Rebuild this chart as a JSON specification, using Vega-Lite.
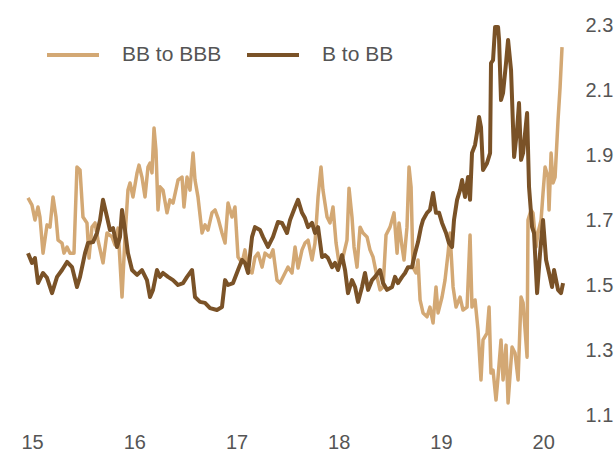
{
  "$schema": "https://vega.github.io/schema/vega-lite/v6.json",
  "width": 537,
  "height": 390,
  "autosize": "none",
  "padding": {"left": 28, "top": 25, "right": 51, "bottom": 40},
  "background": "white",
  "config": {
    "view": {"stroke": null},
    "font": "Liberation Sans",
    "axis": {"labelFont": "Liberation Sans", "labelFontSize": 20, "labelColor": "#555555", "domain": false, "ticks": false, "grid": false, "title": null},
    "legend": {"labelFont": "Liberation Sans", "labelFontSize": 21, "labelColor": "#555555"}
  },
  "data": {"values": [
{"s":"BB to BBB","t":14.960,"v":1.768},{"s":"BB to BBB","t":14.999,"v":1.746},{"s":"BB to BBB","t":15.028,"v":1.700},{"s":"BB to BBB","t":15.058,"v":1.740},{"s":"BB to BBB","t":15.077,"v":1.709},{"s":"BB to BBB","t":15.107,"v":1.598},{"s":"BB to BBB","t":15.146,"v":1.685},{"s":"BB to BBB","t":15.175,"v":1.678},{"s":"BB to BBB","t":15.205,"v":1.771},{"s":"BB to BBB","t":15.234,"v":1.709},{"s":"BB to BBB","t":15.254,"v":1.638},{"s":"BB to BBB","t":15.293,"v":1.629},{"s":"BB to BBB","t":15.312,"v":1.598},{"s":"BB to BBB","t":15.342,"v":1.617},{"s":"BB to BBB","t":15.371,"v":1.598},{"s":"BB to BBB","t":15.410,"v":1.598},{"s":"BB to BBB","t":15.439,"v":1.863},{"s":"BB to BBB","t":15.469,"v":1.854},{"s":"BB to BBB","t":15.498,"v":1.709},{"s":"BB to BBB","t":15.537,"v":1.691},{"s":"BB to BBB","t":15.557,"v":1.583},{"s":"BB to BBB","t":15.586,"v":1.678},{"s":"BB to BBB","t":15.616,"v":1.691},{"s":"BB to BBB","t":15.645,"v":1.638},{"s":"BB to BBB","t":15.694,"v":1.568},{"s":"BB to BBB","t":15.733,"v":1.660},{"s":"BB to BBB","t":15.782,"v":1.648},{"s":"BB to BBB","t":15.811,"v":1.623},{"s":"BB to BBB","t":15.841,"v":1.675},{"s":"BB to BBB","t":15.880,"v":1.463},{"s":"BB to BBB","t":15.909,"v":1.648},{"s":"BB to BBB","t":15.938,"v":1.792},{"s":"BB to BBB","t":15.958,"v":1.814},{"s":"BB to BBB","t":15.987,"v":1.771},{"s":"BB to BBB","t":16.027,"v":1.845},{"s":"BB to BBB","t":16.046,"v":1.869},{"s":"BB to BBB","t":16.075,"v":1.832},{"s":"BB to BBB","t":16.105,"v":1.771},{"s":"BB to BBB","t":16.134,"v":1.863},{"s":"BB to BBB","t":16.154,"v":1.875},{"s":"BB to BBB","t":16.173,"v":1.845},{"s":"BB to BBB","t":16.193,"v":1.983},{"s":"BB to BBB","t":16.212,"v":1.915},{"s":"BB to BBB","t":16.232,"v":1.731},{"s":"BB to BBB","t":16.252,"v":1.802},{"s":"BB to BBB","t":16.281,"v":1.792},{"s":"BB to BBB","t":16.320,"v":1.722},{"s":"BB to BBB","t":16.349,"v":1.762},{"s":"BB to BBB","t":16.379,"v":1.752},{"s":"BB to BBB","t":16.428,"v":1.823},{"s":"BB to BBB","t":16.467,"v":1.832},{"s":"BB to BBB","t":16.486,"v":1.740},{"s":"BB to BBB","t":16.516,"v":1.832},{"s":"BB to BBB","t":16.545,"v":1.792},{"s":"BB to BBB","t":16.575,"v":1.906},{"s":"BB to BBB","t":16.594,"v":1.823},{"s":"BB to BBB","t":16.623,"v":1.771},{"s":"BB to BBB","t":16.663,"v":1.660},{"s":"BB to BBB","t":16.692,"v":1.685},{"s":"BB to BBB","t":16.721,"v":1.669},{"s":"BB to BBB","t":16.760,"v":1.722},{"s":"BB to BBB","t":16.790,"v":1.731},{"s":"BB to BBB","t":16.819,"v":1.706},{"s":"BB to BBB","t":16.858,"v":1.660},{"s":"BB to BBB","t":16.888,"v":1.629},{"s":"BB to BBB","t":16.917,"v":1.752},{"s":"BB to BBB","t":16.956,"v":1.709},{"s":"BB to BBB","t":16.985,"v":1.740},{"s":"BB to BBB","t":17.015,"v":1.586},{"s":"BB to BBB","t":17.054,"v":1.568},{"s":"BB to BBB","t":17.083,"v":1.608},{"s":"BB to BBB","t":17.113,"v":1.546},{"s":"BB to BBB","t":17.152,"v":1.537},{"s":"BB to BBB","t":17.181,"v":1.586},{"s":"BB to BBB","t":17.211,"v":1.598},{"s":"BB to BBB","t":17.250,"v":1.555},{"s":"BB to BBB","t":17.279,"v":1.598},{"s":"BB to BBB","t":17.328,"v":1.586},{"s":"BB to BBB","t":17.357,"v":1.608},{"s":"BB to BBB","t":17.396,"v":1.515},{"s":"BB to BBB","t":17.426,"v":1.506},{"s":"BB to BBB","t":17.475,"v":1.537},{"s":"BB to BBB","t":17.504,"v":1.555},{"s":"BB to BBB","t":17.543,"v":1.537},{"s":"BB to BBB","t":17.573,"v":1.617},{"s":"BB to BBB","t":17.602,"v":1.552},{"s":"BB to BBB","t":17.641,"v":1.608},{"s":"BB to BBB","t":17.670,"v":1.629},{"s":"BB to BBB","t":17.700,"v":1.638},{"s":"BB to BBB","t":17.739,"v":1.577},{"s":"BB to BBB","t":17.768,"v":1.629},{"s":"BB to BBB","t":17.798,"v":1.771},{"s":"BB to BBB","t":17.827,"v":1.863},{"s":"BB to BBB","t":17.846,"v":1.792},{"s":"BB to BBB","t":17.886,"v":1.709},{"s":"BB to BBB","t":17.915,"v":1.691},{"s":"BB to BBB","t":17.944,"v":1.740},{"s":"BB to BBB","t":17.974,"v":1.629},{"s":"BB to BBB","t":18.003,"v":1.568},{"s":"BB to BBB","t":18.042,"v":1.586},{"s":"BB to BBB","t":18.081,"v":1.638},{"s":"BB to BBB","t":18.101,"v":1.798},{"s":"BB to BBB","t":18.130,"v":1.709},{"s":"BB to BBB","t":18.150,"v":1.617},{"s":"BB to BBB","t":18.179,"v":1.555},{"s":"BB to BBB","t":18.209,"v":1.678},{"s":"BB to BBB","t":18.238,"v":1.660},{"s":"BB to BBB","t":18.277,"v":1.648},{"s":"BB to BBB","t":18.306,"v":1.608},{"s":"BB to BBB","t":18.336,"v":1.586},{"s":"BB to BBB","t":18.375,"v":1.525},{"s":"BB to BBB","t":18.404,"v":1.485},{"s":"BB to BBB","t":18.434,"v":1.494},{"s":"BB to BBB","t":18.463,"v":1.654},{"s":"BB to BBB","t":18.502,"v":1.678},{"s":"BB to BBB","t":18.541,"v":1.722},{"s":"BB to BBB","t":18.571,"v":1.598},{"s":"BB to BBB","t":18.590,"v":1.691},{"s":"BB to BBB","t":18.620,"v":1.617},{"s":"BB to BBB","t":18.639,"v":1.577},{"s":"BB to BBB","t":18.668,"v":1.678},{"s":"BB to BBB","t":18.688,"v":1.863},{"s":"BB to BBB","t":18.708,"v":1.802},{"s":"BB to BBB","t":18.727,"v":1.555},{"s":"BB to BBB","t":18.756,"v":1.537},{"s":"BB to BBB","t":18.776,"v":1.577},{"s":"BB to BBB","t":18.796,"v":1.454},{"s":"BB to BBB","t":18.825,"v":1.414},{"s":"BB to BBB","t":18.864,"v":1.402},{"s":"BB to BBB","t":18.893,"v":1.432},{"s":"BB to BBB","t":18.923,"v":1.383},{"s":"BB to BBB","t":18.952,"v":1.494},{"s":"BB to BBB","t":18.972,"v":1.414},{"s":"BB to BBB","t":19.011,"v":1.463},{"s":"BB to BBB","t":19.040,"v":1.515},{"s":"BB to BBB","t":19.070,"v":1.598},{"s":"BB to BBB","t":19.089,"v":1.660},{"s":"BB to BBB","t":19.119,"v":1.494},{"s":"BB to BBB","t":19.148,"v":1.432},{"s":"BB to BBB","t":19.187,"v":1.463},{"s":"BB to BBB","t":19.216,"v":1.423},{"s":"BB to BBB","t":19.256,"v":1.432},{"s":"BB to BBB","t":19.285,"v":1.654},{"s":"BB to BBB","t":19.304,"v":1.432},{"s":"BB to BBB","t":19.334,"v":1.454},{"s":"BB to BBB","t":19.363,"v":1.362},{"s":"BB to BBB","t":19.392,"v":1.208},{"s":"BB to BBB","t":19.412,"v":1.331},{"s":"BB to BBB","t":19.451,"v":1.352},{"s":"BB to BBB","t":19.471,"v":1.432},{"s":"BB to BBB","t":19.490,"v":1.229},{"s":"BB to BBB","t":19.510,"v":1.238},{"s":"BB to BBB","t":19.539,"v":1.146},{"s":"BB to BBB","t":19.559,"v":1.217},{"s":"BB to BBB","t":19.588,"v":1.331},{"s":"BB to BBB","t":19.608,"v":1.208},{"s":"BB to BBB","t":19.637,"v":1.315},{"s":"BB to BBB","t":19.657,"v":1.137},{"s":"BB to BBB","t":19.696,"v":1.309},{"s":"BB to BBB","t":19.725,"v":1.291},{"s":"BB to BBB","t":19.755,"v":1.208},{"s":"BB to BBB","t":19.784,"v":1.463},{"s":"BB to BBB","t":19.804,"v":1.445},{"s":"BB to BBB","t":19.843,"v":1.278},{"s":"BB to BBB","t":19.852,"v":1.700},{"s":"BB to BBB","t":19.882,"v":1.731},{"s":"BB to BBB","t":19.901,"v":1.722},{"s":"BB to BBB","t":19.931,"v":1.617},{"s":"BB to BBB","t":19.950,"v":1.660},{"s":"BB to BBB","t":19.980,"v":1.700},{"s":"BB to BBB","t":19.999,"v":1.783},{"s":"BB to BBB","t":20.019,"v":1.863},{"s":"BB to BBB","t":20.048,"v":1.832},{"s":"BB to BBB","t":20.058,"v":1.731},{"s":"BB to BBB","t":20.078,"v":1.906},{"s":"BB to BBB","t":20.097,"v":1.814},{"s":"BB to BBB","t":20.117,"v":1.832},{"s":"BB to BBB","t":20.146,"v":2.008},{"s":"BB to BBB","t":20.166,"v":2.109},{"s":"BB to BBB","t":20.185,"v":2.232},
{"s":"B to BB","t":14.960,"v":1.598},{"s":"B to BB","t":14.999,"v":1.568},{"s":"B to BB","t":15.028,"v":1.583},{"s":"B to BB","t":15.058,"v":1.506},{"s":"B to BB","t":15.107,"v":1.537},{"s":"B to BB","t":15.146,"v":1.522},{"s":"B to BB","t":15.195,"v":1.475},{"s":"B to BB","t":15.244,"v":1.525},{"s":"B to BB","t":15.293,"v":1.546},{"s":"B to BB","t":15.342,"v":1.571},{"s":"B to BB","t":15.391,"v":1.555},{"s":"B to BB","t":15.439,"v":1.494},{"s":"B to BB","t":15.469,"v":1.525},{"s":"B to BB","t":15.518,"v":1.598},{"s":"B to BB","t":15.547,"v":1.629},{"s":"B to BB","t":15.596,"v":1.632},{"s":"B to BB","t":15.635,"v":1.660},{"s":"B to BB","t":15.665,"v":1.700},{"s":"B to BB","t":15.694,"v":1.762},{"s":"B to BB","t":15.733,"v":1.709},{"s":"B to BB","t":15.762,"v":1.669},{"s":"B to BB","t":15.792,"v":1.675},{"s":"B to BB","t":15.831,"v":1.617},{"s":"B to BB","t":15.860,"v":1.648},{"s":"B to BB","t":15.880,"v":1.731},{"s":"B to BB","t":15.909,"v":1.669},{"s":"B to BB","t":15.938,"v":1.598},{"s":"B to BB","t":15.978,"v":1.546},{"s":"B to BB","t":16.027,"v":1.531},{"s":"B to BB","t":16.075,"v":1.546},{"s":"B to BB","t":16.124,"v":1.515},{"s":"B to BB","t":16.154,"v":1.463},{"s":"B to BB","t":16.183,"v":1.485},{"s":"B to BB","t":16.222,"v":1.546},{"s":"B to BB","t":16.252,"v":1.525},{"s":"B to BB","t":16.281,"v":1.537},{"s":"B to BB","t":16.330,"v":1.525},{"s":"B to BB","t":16.379,"v":1.515},{"s":"B to BB","t":16.428,"v":1.500},{"s":"B to BB","t":16.477,"v":1.506},{"s":"B to BB","t":16.516,"v":1.525},{"s":"B to BB","t":16.565,"v":1.546},{"s":"B to BB","t":16.594,"v":1.463},{"s":"B to BB","t":16.643,"v":1.448},{"s":"B to BB","t":16.692,"v":1.445},{"s":"B to BB","t":16.741,"v":1.429},{"s":"B to BB","t":16.809,"v":1.423},{"s":"B to BB","t":16.858,"v":1.432},{"s":"B to BB","t":16.888,"v":1.515},{"s":"B to BB","t":16.917,"v":1.500},{"s":"B to BB","t":16.966,"v":1.506},{"s":"B to BB","t":17.015,"v":1.546},{"s":"B to BB","t":17.054,"v":1.577},{"s":"B to BB","t":17.083,"v":1.568},{"s":"B to BB","t":17.113,"v":1.537},{"s":"B to BB","t":17.152,"v":1.648},{"s":"B to BB","t":17.181,"v":1.678},{"s":"B to BB","t":17.230,"v":1.669},{"s":"B to BB","t":17.259,"v":1.648},{"s":"B to BB","t":17.308,"v":1.617},{"s":"B to BB","t":17.357,"v":1.648},{"s":"B to BB","t":17.406,"v":1.694},{"s":"B to BB","t":17.445,"v":1.691},{"s":"B to BB","t":17.494,"v":1.660},{"s":"B to BB","t":17.524,"v":1.700},{"s":"B to BB","t":17.573,"v":1.740},{"s":"B to BB","t":17.602,"v":1.762},{"s":"B to BB","t":17.641,"v":1.722},{"s":"B to BB","t":17.670,"v":1.706},{"s":"B to BB","t":17.700,"v":1.678},{"s":"B to BB","t":17.739,"v":1.691},{"s":"B to BB","t":17.768,"v":1.660},{"s":"B to BB","t":17.798,"v":1.678},{"s":"B to BB","t":17.837,"v":1.586},{"s":"B to BB","t":17.866,"v":1.592},{"s":"B to BB","t":17.895,"v":1.583},{"s":"B to BB","t":17.935,"v":1.555},{"s":"B to BB","t":17.964,"v":1.568},{"s":"B to BB","t":17.993,"v":1.546},{"s":"B to BB","t":18.032,"v":1.592},{"s":"B to BB","t":18.062,"v":1.546},{"s":"B to BB","t":18.091,"v":1.475},{"s":"B to BB","t":18.130,"v":1.515},{"s":"B to BB","t":18.160,"v":1.494},{"s":"B to BB","t":18.189,"v":1.448},{"s":"B to BB","t":18.228,"v":1.494},{"s":"B to BB","t":18.257,"v":1.537},{"s":"B to BB","t":18.287,"v":1.485},{"s":"B to BB","t":18.326,"v":1.515},{"s":"B to BB","t":18.355,"v":1.525},{"s":"B to BB","t":18.404,"v":1.546},{"s":"B to BB","t":18.434,"v":1.506},{"s":"B to BB","t":18.473,"v":1.485},{"s":"B to BB","t":18.522,"v":1.494},{"s":"B to BB","t":18.551,"v":1.525},{"s":"B to BB","t":18.580,"v":1.506},{"s":"B to BB","t":18.620,"v":1.525},{"s":"B to BB","t":18.649,"v":1.537},{"s":"B to BB","t":18.678,"v":1.555},{"s":"B to BB","t":18.717,"v":1.555},{"s":"B to BB","t":18.747,"v":1.598},{"s":"B to BB","t":18.776,"v":1.632},{"s":"B to BB","t":18.805,"v":1.678},{"s":"B to BB","t":18.825,"v":1.700},{"s":"B to BB","t":18.864,"v":1.722},{"s":"B to BB","t":18.893,"v":1.731},{"s":"B to BB","t":18.923,"v":1.783},{"s":"B to BB","t":18.952,"v":1.722},{"s":"B to BB","t":18.982,"v":1.722},{"s":"B to BB","t":19.011,"v":1.691},{"s":"B to BB","t":19.050,"v":1.660},{"s":"B to BB","t":19.079,"v":1.629},{"s":"B to BB","t":19.109,"v":1.617},{"s":"B to BB","t":19.128,"v":1.700},{"s":"B to BB","t":19.158,"v":1.762},{"s":"B to BB","t":19.187,"v":1.792},{"s":"B to BB","t":19.207,"v":1.823},{"s":"B to BB","t":19.236,"v":1.771},{"s":"B to BB","t":19.265,"v":1.832},{"s":"B to BB","t":19.285,"v":1.762},{"s":"B to BB","t":19.304,"v":1.906},{"s":"B to BB","t":19.334,"v":1.931},{"s":"B to BB","t":19.353,"v":1.968},{"s":"B to BB","t":19.373,"v":2.017},{"s":"B to BB","t":19.392,"v":1.986},{"s":"B to BB","t":19.412,"v":1.854},{"s":"B to BB","t":19.451,"v":1.875},{"s":"B to BB","t":19.481,"v":1.906},{"s":"B to BB","t":19.490,"v":2.183},{"s":"B to BB","t":19.510,"v":2.192},{"s":"B to BB","t":19.530,"v":2.294},{"s":"B to BB","t":19.559,"v":2.294},{"s":"B to BB","t":19.569,"v":2.254},{"s":"B to BB","t":19.588,"v":2.069},{"s":"B to BB","t":19.608,"v":2.091},{"s":"B to BB","t":19.637,"v":2.183},{"s":"B to BB","t":19.657,"v":2.254},{"s":"B to BB","t":19.686,"v":2.162},{"s":"B to BB","t":19.716,"v":1.894},{"s":"B to BB","t":19.745,"v":1.977},{"s":"B to BB","t":19.764,"v":2.060},{"s":"B to BB","t":19.784,"v":1.885},{"s":"B to BB","t":19.804,"v":1.906},{"s":"B to BB","t":19.843,"v":2.029},{"s":"B to BB","t":19.862,"v":1.802},{"s":"B to BB","t":19.892,"v":1.678},{"s":"B to BB","t":19.911,"v":1.660},{"s":"B to BB","t":19.941,"v":1.475},{"s":"B to BB","t":19.970,"v":1.598},{"s":"B to BB","t":19.999,"v":1.700},{"s":"B to BB","t":20.029,"v":1.577},{"s":"B to BB","t":20.058,"v":1.537},{"s":"B to BB","t":20.087,"v":1.494},{"s":"B to BB","t":20.107,"v":1.546},{"s":"B to BB","t":20.146,"v":1.485},{"s":"B to BB","t":20.175,"v":1.475},{"s":"B to BB","t":20.195,"v":1.506}
  ]},
  "encoding": {
    "x": {"field": "t", "type": "quantitative", "scale": {"domain": [14.96, 20.214], "nice": false, "zero": false},
      "axis": {"values": [15, 16, 17, 18, 19, 20], "format": "d", "labelPadding": 17, "labelFlush": false}},
    "y": {"field": "v", "type": "quantitative", "scale": {"domain": [1.1, 2.3], "nice": false, "zero": false},
      "axis": {"orient": "right", "values": [1.1, 1.3, 1.5, 1.7, 1.9, 2.1, 2.3], "format": ".1f", "labelPadding": 20, "labelFlush": false}},
    "color": {"field": "s", "type": "nominal",
      "scale": {"domain": ["BB to BBB", "B to BB"], "range": ["#D3A874", "#7A5227"]},
      "legend": {"title": null, "orient": "none", "direction": "horizontal", "legendX": 17, "legendY": 2, "symbolType": "stroke", "symbolSize": 2704, "symbolStrokeWidth": 4, "labelOffset": 21, "columnPadding": 17, "padding": 0}}
  },
  "layer": [
    {
      "transform": [{"filter": "datum.s === 'BB to BBB'"}],
      "mark": {"type": "line", "strokeWidth": 3.5, "strokeJoin": "round"}
    },
    {
      "transform": [{"filter": "datum.s === 'B to BB'"}],
      "mark": {"type": "line", "strokeWidth": 4, "strokeJoin": "round"}
    }
  ]
}
